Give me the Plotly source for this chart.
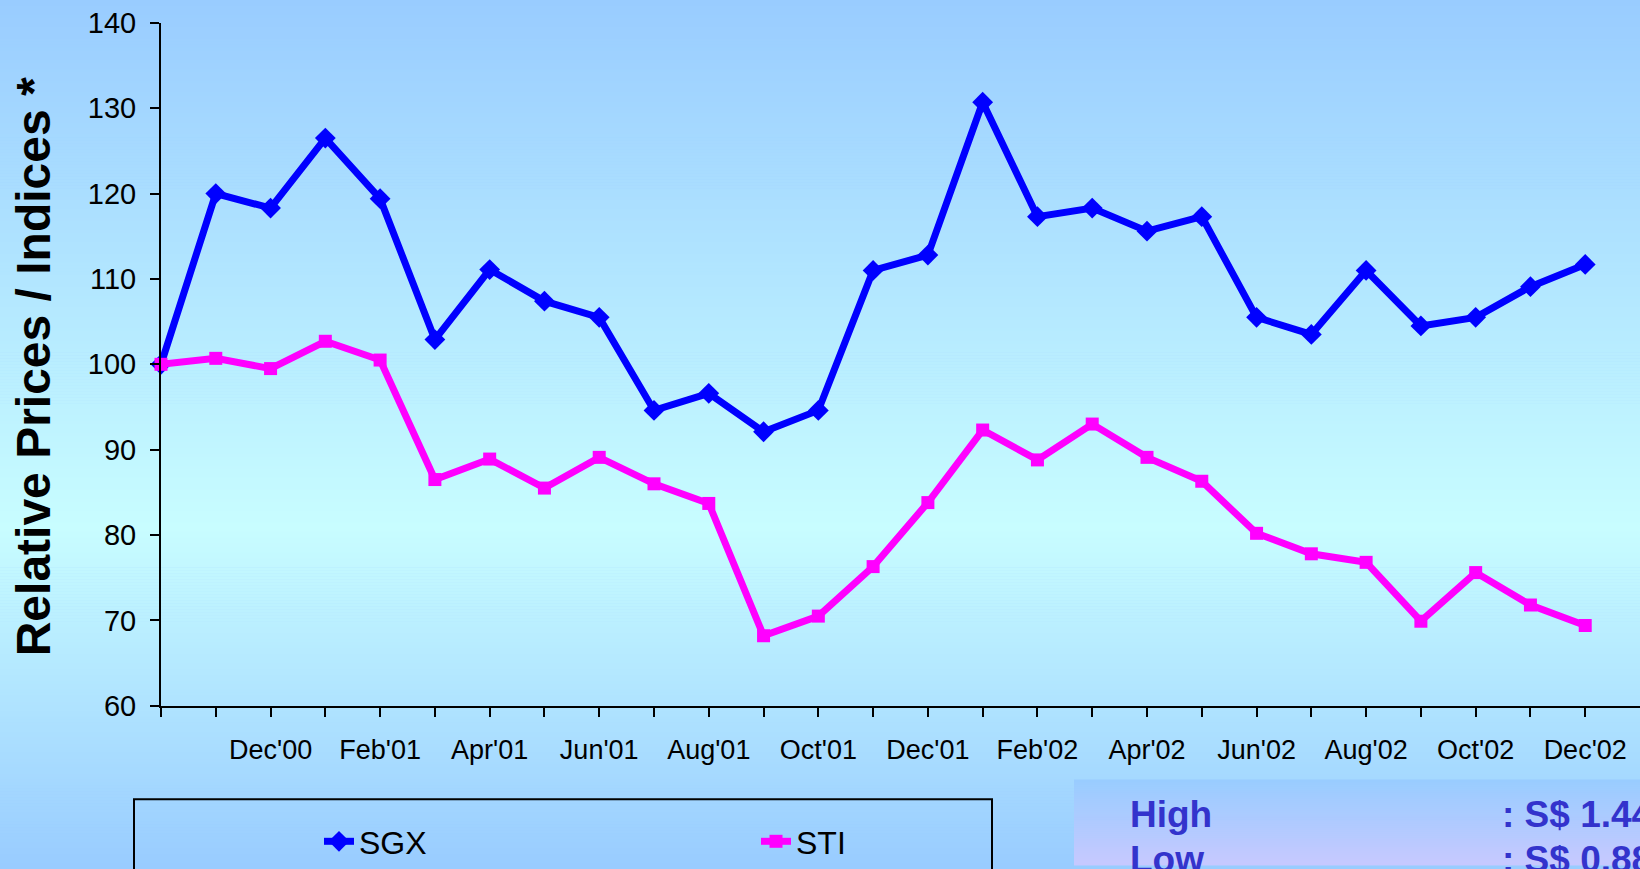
import plotly.graph_objects as go

W, H = 1640, 869

# first point is the listing price, then month-end values
months = [
    "Listing", "Nov'00", "Dec'00", "Jan'01", "Feb'01", "Mar'01", "Apr'01",
    "May'01", "Jun'01", "Jul'01", "Aug'01", "Sep'01", "Oct'01", "Nov'01",
    "Dec'01", "Jan'02", "Feb'02", "Mar'02", "Apr'02", "May'02", "Jun'02",
    "Jul'02", "Aug'02", "Sep'02", "Oct'02", "Nov'02", "Dec'02",
]
sgx = [
    100.0, 120.0, 118.3, 126.5, 119.4, 102.9, 111.1, 107.4, 105.5, 94.6,
    96.6, 92.1, 94.6, 111.0, 112.8, 130.7, 117.3, 118.3, 115.6, 117.3,
    105.5, 103.5, 111.0, 104.5, 105.5, 109.1, 111.7,
]
sti = [
    100.0, 100.7, 99.5, 102.7, 100.5, 86.5, 88.9, 85.5, 89.1, 86.0,
    83.7, 68.2, 70.5, 76.3, 83.8, 92.3, 88.8, 93.0, 89.1, 86.3,
    80.2, 77.8, 76.8, 69.9, 75.6, 71.8, 69.4,
]
# only every second month gets a label, none at the listing point
tick_labels = [m if i % 2 == 0 and i > 0 else "" for i, m in enumerate(months)]

stats_names = ["High", "Low"]
stats_values = [": S$ 1.44", ": S$ 0.88"]

FONT = "Arial, Liberation Sans, sans-serif"


def fx(x):
    return x / W


def fy(y):
    return 1 - y / H


def mix(c1, c2, t):
    r, g, b = (round(a + (b - a) * t) for a, b in zip(c1, c2))
    return f"rgb({r},{g},{b})"


shapes = []

# page background: light blue -> pale cyan -> light blue
top_c, mid_c, bot_c = (153, 204, 255), (200, 253, 255), (153, 204, 255)
peak = 530
step = 3
for y in range(0, H, step):
    yc = y + step / 2
    if yc < peak:
        col = mix(top_c, mid_c, yc / peak)
    else:
        col = mix(mid_c, bot_c, (yc - peak) / (H - peak))
    shapes.append(dict(
        type="rect", xref="paper", yref="paper", layer="below",
        x0=0, x1=1, y0=fy(y + step + 0.5), y1=fy(y),
        fillcolor=col, line_width=0,
    ))

# stats box gradient
box_top = 783
for y in range(box_top, H, 2):
    col = mix((153, 204, 255), (204, 200, 255), (y - box_top) / 95)
    shapes.append(dict(
        type="rect", xref="paper", yref="paper", layer="below",
        x0=fx(1074), x1=1, y0=fy(y + 2.5), y1=fy(y),
        fillcolor=col, line_width=0,
    ))

# legend frame
shapes.append(dict(
    type="rect", xref="paper", yref="paper",
    x0=fx(134), x1=fx(992), y0=fy(H + 20), y1=fy(803),
    line=dict(color="black", width=2), fillcolor="rgba(0,0,0,0)",
))

fig = go.Figure()
fig.add_trace(go.Scatter(
    x=months, y=sgx, name="SGX", mode="lines+markers",
    line=dict(color="#0000FF", width=7),
    marker=dict(symbol="diamond", size=16, color="#0000FF"),
    cliponaxis=False,
))
fig.add_trace(go.Scatter(
    x=months, y=sti, name="STI", mode="lines+markers",
    line=dict(color="#FF00FF", width=7),
    marker=dict(symbol="square", size=13, color="#FF00FF"),
    cliponaxis=False,
))

annotations = [dict(
    text="<b>Relative Prices / Indices *</b>", textangle=-90,
    xref="paper", yref="paper", x=fx(33), y=fy(369),
    xanchor="center", yanchor="middle", showarrow=False,
    font=dict(family=FONT, size=48, color="black"),
)]
for i, (name, val) in enumerate(zip(stats_names, stats_values)):
    yc = 818 + i * 45
    annotations.append(dict(
        text=f"<b>{name}</b>", xref="paper", yref="paper",
        x=fx(1128), y=fy(yc), xanchor="left", yanchor="middle",
        showarrow=False, font=dict(family=FONT, size=37, color="#3333CC"),
    ))
    annotations.append(dict(
        text=f"<b>{val}</b>", xref="paper", yref="paper",
        x=fx(1500), y=fy(yc), xanchor="left", yanchor="middle",
        showarrow=False, font=dict(family=FONT, size=37, color="#3333CC"),
    ))

fig.update_layout(
    width=W, height=H,
    margin=dict(l=0, r=0, t=0, b=0),
    paper_bgcolor="#99CCFF",
    plot_bgcolor="rgba(0,0,0,0)",
    font=dict(family=FONT, color="black"),
    shapes=shapes,
    annotations=annotations,
    showlegend=True,
    legend=dict(
        orientation="h", x=fx(319), y=fy(818), xanchor="left", yanchor="top",
        bgcolor="rgba(0,0,0,0)", font=dict(size=32),
        entrywidth=392, entrywidthmode="pixels",
    ),
    xaxis=dict(
        type="category", domain=[fx(161), 1], range=[0, 27.0],
        tickvals=months, ticktext=tick_labels,
        ticks="outside", ticklen=9, tickwidth=2, tickcolor="black",
        showline=True, linecolor="black", linewidth=2,
        showgrid=False, zeroline=False, automargin=False,
        tickfont=dict(size=27), ticklabelstandoff=10,
    ),
    yaxis=dict(
        domain=[fy(709), fy(23)], range=[60, 140], dtick=10,
        ticks="outside", ticklen=9, tickwidth=2, tickcolor="black",
        showline=True, linecolor="black", linewidth=2,
        showgrid=False, zeroline=False, automargin=False,
        tickfont=dict(size=29), ticklabelstandoff=8,
    ),
)

fig.write_html(
    "out.html",
    config={"displayModeBar": False},
    post_script="document.body.style.margin='0';document.body.style.overflow='hidden';",
)
